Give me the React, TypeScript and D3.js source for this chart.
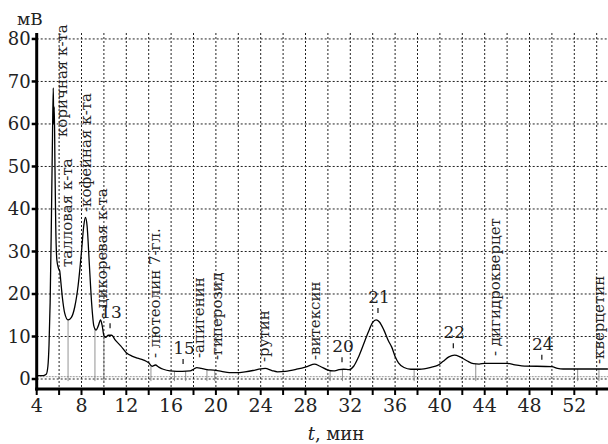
import * as d3 from 'd3'

// retention time, min / detector signal, mV
const times = [4.0, 4.6, 4.85, 5.0, 5.1, 5.2, 5.3, 5.4, 5.48, 5.52, 5.57, 5.63, 5.7, 5.8, 5.95, 6.05, 6.15, 6.3, 6.5, 6.8, 7.1, 7.4, 7.7, 8.0, 8.2, 8.35, 8.5, 8.7, 8.9, 9.1, 9.3, 9.5, 9.7, 9.85, 10.0, 10.15, 10.4, 10.7, 11.0, 11.5, 12.0, 12.5, 13.0, 13.5, 14.0, 14.3, 14.6, 14.9, 15.3, 15.9, 16.5, 17.0, 17.7, 18.0, 18.3, 18.7, 19.2, 19.8, 20.5, 21.2, 21.9, 22.6, 23.3, 24.0, 24.4, 25.0, 25.5, 26.2, 27.2, 28.2, 28.8, 29.3, 30.0, 30.5, 31.0, 31.4, 31.9, 32.3, 32.7, 33.1, 33.6, 34.0, 34.3, 34.6, 35.0, 35.4, 35.7, 36.0, 36.3, 36.8, 37.4, 38.2, 39.2, 39.8, 40.3, 40.8, 41.3, 41.8, 42.4, 43.0, 43.5, 44.0, 46.0, 46.7, 47.3, 50.0, 50.5, 51.0, 55.0]
const signal = [0.8, 0.8, 1.1, 3, 8, 18, 35, 55, 68.5, 60, 64, 50, 36, 28, 26, 25.5, 23, 19, 15.5, 13.9, 14.5, 17, 22, 30, 36, 38, 36, 27, 18, 12.5, 11.5, 12.5, 13.9, 12.5, 10.2, 9.8, 10.3, 10.3, 9.2, 7.8, 6.2, 5.4, 4.9, 4.5, 3.8, 3.0, 3.3, 2.8, 2.3, 1.9, 1.8, 1.8, 1.9, 2.3, 2.7, 2.5, 2.2, 2.1, 1.8, 1.5, 1.5, 1.7, 2.0, 2.4, 2.5, 2.0, 1.7, 1.8, 2.3, 3.0, 3.5, 3.0, 2.1, 1.9, 2.2, 2.3, 2.2, 3.0, 5.0, 7.6, 11, 13.3, 13.9, 13.4, 11.5, 9, 7.5, 5.3, 3.8, 2.7, 2.3, 2.3, 2.75, 3.2, 4.2, 5.2, 5.6, 5.2, 4.3, 3.6, 3.5, 3.7, 3.7, 3.3, 3.1, 2.9, 2.5, 2.35, 2.35]

// peak integration marks
const dropTimes = [6.8, 9.2, 10.0, 14.2, 16.3, 17.3, 19.2, 19.9, 30.2, 31.3, 37.7, 43.2, 52.3, 54.2]

// named peaks (rotated labels)
const nameLabels = ['коричная к-та', 'талловая к-та', '-кофейная к-та', '- цикоревая к-та', '- лютеолин 7-гл.', '-апигенин', '-гиперозид', '-рутин', '-витексин', '- дигидрокверцет', '-кверцетин']
const nameTimes = [6.26, 6.7, 8.4, 9.84, 14.57, 18.5, 20.1, 24.3, 28.8, 44.9, 54.2]
const nameBase = [137, 267, 212, 318, 358, 358, 360, 362, 360, 356, 364]

// numbered peaks
const numLabels = ['13', '15', '20', '21', '22', '24']
const numTimes = [10.55, 17.07, 31.26, 34.47, 41.2, 49.1]
const numSignal = [10.3, 1.9, 2.3, 13.9, 5.6, 2.9]

const xTickValues = [4, 6, 8, 10, 12, 14, 16, 18, 20, 22, 24, 26, 28, 30, 32, 34, 36, 38, 40, 42, 44, 46, 48, 50, 52, 54]
const xTickLabels = ['4', '8', '12', '16', '20', '24', '28', '32', '36', '40', '44', '48', '52']
const yTickValues = [0, 10, 20, 30, 40, 50, 60, 70, 80]

const W = 608
const H = 444
const FONT = 'DejaVu Serif'

export default function App() {
  const x = d3.scaleLinear().domain([4, 55]).range([36.7, 607.9])
  const y = d3.scaleLinear().domain([-2.35, 81.4]).range([389, 33])
  const pts = times.map((t, i) => [t, signal[i]] as [number, number])
  const line = d3.line<[number, number]>().x((d) => x(d[0])).y((d) => y(d[1])).curve(d3.curveMonotoneX)

  const valueAt = (t: number) => {
    const i = Math.max(1, d3.bisectLeft(times, t))
    const t0 = times[i - 1], t1 = times[i]
    const k = (t - t0) / (t1 - t0)
    return signal[i - 1] + (signal[i] - signal[i - 1]) * k
  }

  const x0 = x(4)
  const yTop = y(81.4)
  const yBot = y(-2.35)

  return (
    <svg width={W} height={H} style={{ position: 'absolute', left: 0, top: 0, background: '#fff' }}>
      {/* grid */}
      {xTickValues.slice(1).map((t) => (
        <line key={'gx' + t} x1={x(t)} x2={x(t)} y1={yTop} y2={yBot} stroke="#222" strokeWidth={1} strokeDasharray="2,2" />
      ))}
      {yTickValues.map((v) => (
        <line key={'gy' + v} x1={x0} x2={W} y1={y(v)} y2={y(v)} stroke="#222" strokeWidth={1} strokeDasharray="2,2" />
      ))}
      <line x1={x0} x2={W} y1={y(0.55)} y2={y(0.55)} stroke="#999" strokeWidth={1} strokeDasharray="2,1" />

      {/* integration marks */}
      {dropTimes.map((t) => (
        <line key={'d' + t} x1={x(t)} x2={x(t)} y1={y(-0.5)} y2={y(valueAt(t))} stroke="#777" strokeWidth={0.8} />
      ))}

      {/* chromatogram */}
      <path d={line(pts) ?? ''} fill="none" stroke="#000" strokeWidth={1.3} />

      {/* axes */}
      <line x1={x0} x2={x0} y1={yTop} y2={yBot + 1.5} stroke="#000" strokeWidth={3} />
      <line x1={x0 - 1.5} x2={W} y1={yBot} y2={yBot} stroke="#000" strokeWidth={3} />
      {xTickValues.map((t) => (
        <line key={'tx' + t} x1={x(t)} x2={x(t)} y1={yBot} y2={yBot + 6} stroke="#000" strokeWidth={2} />
      ))}
      {xTickLabels.map((s) => (
        <text key={'lx' + s} fontFamily={FONT} x={x(+s)} y={412} textAnchor="middle" fontSize={19} fill="#222">{s}</text>
      ))}
      {yTickValues.map((v) => (
        <g key={'ty' + v}>
          <line x1={x0 - 5} x2={x0} y1={y(v)} y2={y(v)} stroke="#000" strokeWidth={2.5} />
          <text fontFamily={FONT} x={x0 - 6} y={y(v)} dy="0.35em" textAnchor="end" fontSize={18} fill="#222">{v}</text>
        </g>
      ))}
      <text fontFamily={FONT} x={17} y={25} fontSize={17} fill="#222">мВ</text>
      <text fontFamily={FONT} x={336} y={440} textAnchor="middle" fontSize={18} fill="#222">
        <tspan fontStyle="italic">t</tspan>, мин
      </text>

      {/* peak names */}
      {nameLabels.map((s, i) => (
        <text key={'n' + i} fontFamily={FONT} transform={`translate(${x(nameTimes[i])},${nameBase[i]}) rotate(-90)`} dy="0.35em" fontSize={15} fill="#222">{s}</text>
      ))}
      {numLabels.map((s, i) => {
        const ty = y(numSignal[i]) - 7
        return (
          <g key={'p' + s}>
            <line x1={x(numTimes[i])} x2={x(numTimes[i])} y1={ty - 5} y2={ty} stroke="#222" strokeWidth={1.3} />
            <text fontFamily={FONT} x={x(numTimes[i]) + 1} y={ty - 10} textAnchor="middle" fontSize={17} fill="#222">{s}</text>
          </g>
        )
      })}
    </svg>
  )
}
